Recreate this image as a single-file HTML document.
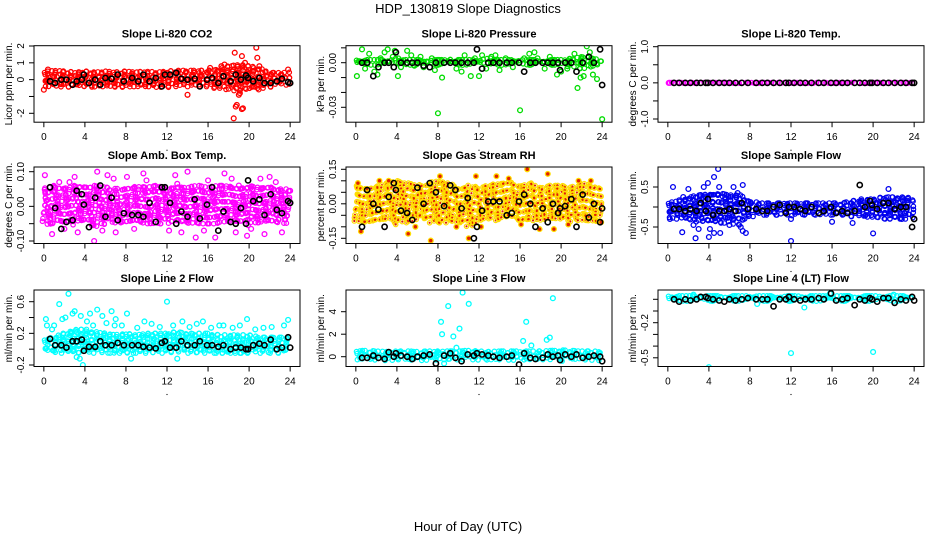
<!DOCTYPE html>
<html><head><meta charset="utf-8"><style>
html,body{margin:0;padding:0;background:#fff;}
svg text{font-family:"Liberation Sans",Arial,sans-serif;}
</style></head><body>
<svg id="chart" width="936" height="540" viewBox="0 0 936 540" xmlns="http://www.w3.org/2000/svg">
<rect x="0" y="0" width="936" height="540" fill="#fff"/>
<text x="468" y="13" text-anchor="middle" font-size="13">HDP_130819  Slope Diagnostics</text>
<text x="468" y="531" text-anchor="middle" font-size="13">Hour of Day (UTC)</text>
</svg>
<script>
const bandHours=[0,1,2,3,4,5,6,7,8,9,10,11,12,13,14,15,16,17,18,19,20,21,22,23,24];
const blackHours=[0.6,1.1,1.7,2.2,2.8,3.2,3.7,3.9,4.4,5,5.5,6,6.6,7.2,7.8,8.6,9.2,9.7,10.3,10.9,11.5,11.8,12.3,12.9,13.4,14,14.7,15.2,15.9,16.4,17,17.5,18.2,18.7,19.2,19.7,19.9,20.4,21,21.5,22.1,22.7,23.2,23.8,24];
const xTicks=[0,4,8,12,16,20,24];

// Panel 1: CO2
const co2Lo=[-0.4,-0.4,-0.45,-0.4,-0.4,-0.45,-0.4,-0.45,-0.45,-0.4,-0.4,-0.45,-0.5,-0.45,-0.5,-0.5,-0.5,-0.5,-0.6,-0.7,-0.6,-0.6,-0.45,-0.4,-0.4];
const co2Hi=[0.45,0.55,0.5,0.45,0.5,0.45,0.5,0.45,0.5,0.45,0.5,0.45,0.5,0.55,0.55,0.55,0.55,0.6,0.8,0.9,0.8,0.7,0.45,0.4,0.45];
const co2OutX=[18.6,20.7,20.8,19.3,19.6,19,19.1,18.8,18.7,19.4,19.3,18.5,14,0,17.3,17.6,21,23.8,0.4,16.2];
const co2OutY=[1.6,1.9,1.3,1.4,1.0,-0.9,-0.8,-1.5,-1.6,-1.7,-1.75,-2.3,-0.9,-0.6,0.8,0.9,0.8,0.6,0.6,0.7];
const co2Black=[-0.1,-0.2,0.0,0.0,-0.3,-0.1,0.0,0.3,-0.2,0.0,-0.3,0.1,0.05,0.3,-0.1,0.1,-0.1,0.3,-0.1,0.1,-0.4,0.3,0.3,0.4,0.05,0.0,0.05,-0.4,0.0,0.1,-0.2,0.2,-0.1,0.3,0.0,0.25,0.1,-0.1,0.1,-0.2,-0.2,-0.1,0.05,-0.15,-0.2];

// Panel 2: Pressure
const presLo=[-0.002,-0.002,-0.002,-0.002,-0.002,-0.002,-0.002,-0.002,-0.002,-0.002,-0.002,-0.002,-0.002,-0.002,-0.002,-0.002,-0.002,-0.002,-0.002,-0.002,-0.002,-0.003,-0.004,-0.003,-0.002];
const presHi=[0.002,0.002,0.002,0.002,0.003,0.002,0.002,0.002,0.002,0.002,0.002,0.002,0.002,0.003,0.002,0.002,0.002,0.002,0.002,0.002,0.002,0.003,0.004,0.003,0.002];
const presOutX=[0.1,0.3,0.6,0.9,1.3,1.8,2.1,2.4,2.8,3.1,3.6,3.8,4.1,4.4,5,5.4,5.7,6.3,6.6,7.4,7.7,8,8.4,9.2,9.8,10.3,10.6,11.2,11.6,12,12.3,12.7,13.2,13.6,14,14.6,15.3,16,16.4,16.9,17.4,17.7,18.4,18.9,19.6,20,20.6,21.3,21.6,21.9,22.2,22.5,22.8,23.1,23.5,24];
const presOutY=[-0.009,0.001,0.009,-0.004,0.006,-0.006,-0.008,0.003,0.007,0.009,0.004,0.008,-0.009,-0.003,0.008,0.005,-0.002,0.004,-0.003,0.003,-0.005,-0.034,-0.010,0.002,-0.004,-0.006,0.005,-0.009,0.003,-0.009,0.005,-0.004,0.004,0.005,-0.005,0.003,-0.003,-0.032,0.003,0.006,0.007,0.003,-0.004,0.004,-0.008,-0.006,-0.004,0.006,-0.017,-0.010,-0.009,0.011,0.007,-0.008,-0.011,-0.038];
const presBlack=[0,0,-0.009,-0.003,0,0,-0.003,0.007,0,0,0,0,-0.002,-0.003,0,0,0,0,0,0,0,0.009,-0.004,0,0,0,0,0,0,-0.006,0,0,0,0,0,0,-0.005,0,0,-0.006,0,0.004,0,0.009,-0.015];

// Panel 3: Li-820 Temp
const tempLo=[-0.01,-0.01,-0.01,-0.01,-0.01,-0.01,-0.01,-0.01,-0.01,-0.01,-0.01,-0.01,-0.01,-0.01,-0.01,-0.01,-0.01,-0.01,-0.01,-0.01,-0.01,-0.01,-0.01,-0.01,-0.01];
const tempHi=[0.01,0.01,0.01,0.01,0.01,0.01,0.01,0.01,0.01,0.01,0.01,0.01,0.01,0.01,0.01,0.01,0.01,0.01,0.01,0.01,0.01,0.01,0.01,0.01,0.01];
const tempOutX=[0.1,0.2];
const tempOutY=[0,0];
const tempBlack=[0,0,0,0,0,0,0,0,0,0,0,0,0,0,0,0,0,0,0,0,0,0,0,0,0,0,0,0,0,0,0,0,0,0,0,0,0,0,0,0,0,0,0,0,0];

// Panel 4: Amb box temp
const ambLo=[-0.05,-0.055,-0.05,-0.055,-0.05,-0.06,-0.05,-0.05,-0.055,-0.05,-0.055,-0.05,-0.05,-0.05,-0.055,-0.05,-0.05,-0.05,-0.05,-0.05,-0.055,-0.05,-0.05,-0.05,-0.05];
const ambHi=[0.05,0.06,0.055,0.06,0.06,0.06,0.055,0.05,0.055,0.06,0.055,0.06,0.05,0.06,0.055,0.06,0.055,0.06,0.06,0.055,0.06,0.055,0.06,0.05,0.05];
const ambOutX=[0.1,0.8,1.5,2.5,3.3,4.9,5.2,6.2,6.8,7,8.8,9.7,11.1,12.2,12.8,13.4,14,14.8,16,16.7,17.6,18.3,19,20.2,21.1,21.5,22.6,23.2,24,3,10,15.6,2,8.1,5.7,18.7,22,1.1,13,19.8];
const ambOutY=[0.09,-0.08,0.07,0.07,-0.075,-0.10,0.10,0.09,0.08,-0.075,-0.065,0.095,0.055,-0.07,0.09,-0.075,0.10,-0.09,0.075,-0.09,0.095,0.08,0.06,-0.065,0.08,-0.08,0.07,-0.075,0.045,0.085,0.075,-0.07,-0.065,0.085,-0.07,-0.075,0.085,0.055,0.065,-0.085];
const ambBlack=[0.055,-0.005,-0.065,-0.045,-0.04,0.045,0.035,0.005,-0.06,0.025,0.06,-0.03,0.025,-0.04,-0.02,-0.025,-0.025,-0.03,0.01,-0.045,0.055,0.055,0.01,-0.05,-0.015,-0.03,0.02,-0.035,0.005,0.055,-0.07,-0.015,-0.045,-0.05,-0.005,-0.05,0.075,0.015,0.02,-0.025,0.035,-0.01,-0.02,0.015,0.01];

// Panel 5: Gas stream RH
const rhLo=[-0.08,-0.09,-0.08,-0.07,-0.09,-0.08,-0.07,-0.08,-0.09,-0.08,-0.09,-0.1,-0.08,-0.07,-0.08,-0.07,-0.08,-0.07,-0.08,-0.07,-0.07,-0.08,-0.07,-0.08,-0.09];
const rhHi=[0.08,0.07,0.08,0.09,0.1,0.09,0.08,0.09,0.1,0.09,0.07,0.08,0.07,0.08,0.09,0.1,0.08,0.09,0.07,0.08,0.08,0.07,0.09,0.08,0.07];
const rhOutX=[0.2,0.5,2.3,3.2,5.1,5.8,7.3,8.2,9.8,11,11.7,13.7,14.9,16.7,18.7,19.3,17.9,16.1,21.7,22.9,23.9,20.7,12.2];
const rhOutY=[0.09,-0.12,0.1,0.1,-0.13,-0.1,-0.16,0.12,-0.1,-0.15,0.12,0.12,0.11,0.15,0.13,-0.11,-0.11,-0.09,0.1,0.1,-0.08,-0.09,-0.1];
const rhBlack=[-0.1,0.06,0.0,-0.025,-0.1,0.03,0.09,0.06,-0.03,-0.04,-0.07,0.07,0.0,0.09,0.05,-0.01,0.08,0.06,-0.02,0.025,-0.15,-0.1,-0.03,0.01,0.01,0.01,-0.05,-0.04,0.01,0.04,0.0,-0.1,-0.02,-0.08,0.0,-0.04,-0.02,-0.01,0.02,-0.1,0.04,-0.06,0.0,-0.08,-0.02];

// Panel 6: Sample flow
const sfLo=[-0.25,-0.3,-0.35,-0.4,-0.4,-0.4,-0.4,-0.45,-0.25,-0.2,-0.2,-0.2,-0.25,-0.2,-0.2,-0.2,-0.2,-0.2,-0.25,-0.25,-0.25,-0.3,-0.3,-0.3,-0.3];
const sfHi=[0.1,0.15,0.25,0.3,0.35,0.35,0.3,0.3,0.15,0.1,0.1,0.1,0.1,0.1,0.1,0.1,0.1,0.1,0.15,0.2,0.2,0.25,0.25,0.25,0.2];
const sfOutX=[0.5,0.2,1.4,2,2.5,2.7,3,3.5,3.9,4.1,4,4.5,4.9,4.5,5.1,5,5.7,6.4,6.8,7.3,7.1,7.3,7.6,6,5.9,3.2,12,12,16,18,20,21.5,22.8,1.5];
const sfOutY=[0.5,-0.3,-0.63,0.45,-0.45,-0.78,-0.55,0.5,0.6,-0.55,-0.75,0.75,0.95,-0.65,-0.65,0.5,0.3,0.5,0.35,0.55,-0.5,-0.6,-0.65,-0.45,0.25,0.3,-0.85,-0.3,-0.37,-0.4,-0.66,0.45,-0.3,0.25];
const sfBlack=[-0.05,-0.05,-0.1,-0.05,-0.1,0.1,-0.1,0.2,-0.2,-0.1,-0.1,-0.05,-0.1,0.1,-0.05,-0.05,-0.1,-0.1,0.0,0.05,-0.15,0.0,0.0,-0.05,-0.1,0.0,-0.15,-0.1,0.0,-0.15,-0.1,-0.15,-0.1,0.55,0.0,0.15,0.05,-0.05,0.1,0.1,-0.05,0.0,0.0,-0.5,-0.3];

// Panel 7: Line 2 flow
const l2Lo=[-0.02,-0.05,-0.05,-0.05,-0.05,-0.05,-0.05,-0.05,-0.05,-0.05,-0.05,-0.05,-0.05,-0.05,-0.05,-0.05,-0.05,-0.05,-0.05,-0.05,-0.05,-0.05,-0.05,-0.05,-0.02];
const l2Hi=[0.12,0.15,0.2,0.25,0.25,0.22,0.2,0.18,0.2,0.18,0.2,0.2,0.2,0.22,0.2,0.2,0.2,0.18,0.18,0.18,0.18,0.15,0.15,0.15,0.15];
const l2OutX=[0.2,0.3,1,1.5,2.1,2.4,2.6,3.5,3.8,3.2,4.5,5.2,6.6,8.1,12,1.5,9.8,13.5,15.5,17.5,19.8,4.2,3,7,8.5,13,23.8,23.4,2.8,5.7,1.8,3.6,4.8,6.1,7.6,9.1,10.5,11.3,12.6,14.2,14.9,16.3,17.1,18.4,19.1,20.6,21.4,22.2,0.8,6.9];
const l2OutY=[0.38,0.3,0.3,0.57,0.4,0.7,0.2,-0.12,-0.2,-0.1,0.45,0.5,0.48,0.45,0.6,0.15,0.35,0.35,0.35,0.3,0.38,0.35,0.48,0.38,-0.12,-0.12,0.37,0.3,0.45,0.42,0.38,0.42,0.3,0.33,0.3,0.27,0.32,0.28,0.3,0.28,0.32,0.27,0.3,0.27,0.3,0.25,0.27,0.28,0.25,0.3];
const l2Black=[0.13,0.05,0.05,0.02,0.1,0.1,0.12,-0.02,0.03,0.03,0.1,0.05,0.05,0.08,0.05,0.05,0.05,0.03,0.02,0.01,0.08,0.1,0.02,0.02,0.1,0.05,0.05,0.1,0.05,0.05,0.03,0.05,0.0,0.02,0.02,0.0,0.0,0.05,0.07,0.05,0.12,0.0,0.02,0.15,0.02];

// Panel 8: Line 3 flow
const l3Lo=[-0.35,-0.35,-0.35,-0.35,-0.35,-0.35,-0.35,-0.35,-0.4,-0.35,-0.35,-0.35,-0.35,-0.35,-0.35,-0.35,-0.4,-0.35,-0.35,-0.35,-0.4,-0.35,-0.35,-0.35,-0.35];
const l3Hi=[0.5,0.55,0.5,0.45,0.5,0.5,0.45,0.5,0.5,0.5,0.5,0.55,0.5,0.45,0.5,0.5,0.5,0.5,0.5,0.55,0.6,0.55,0.5,0.5,0.45];
const l3OutX=[8.3,8.4,9,9.5,10.4,10.1,11,16.6,16.3,17.1,18.6,18.9,19.2,8.6,9.8];
const l3OutY=[3.1,2.0,4.5,1.8,5.7,2.5,4.7,3.1,1.4,1.0,1.5,1.7,5.2,-0.6,0.8];
const l3Black=[-0.1,-0.1,0.1,-0.1,-0.2,0.4,0.0,0.3,0.1,0.0,-0.2,0.0,0.1,0.2,-0.6,0.1,0.3,-0.1,-0.4,0.2,0.1,0.3,0.2,0.1,0.0,-0.1,0.0,0.1,-0.7,0.3,-0.1,-0.2,-0.1,0.2,0.0,0.1,-0.3,0.2,0.0,0.2,-0.1,0.0,0.1,0.0,-0.4];

// Panel 9: Line 4 (LT) flow
const l4Lo=[-0.03,-0.03,-0.03,-0.03,-0.03,-0.03,-0.03,-0.03,-0.03,-0.03,-0.03,-0.03,-0.03,-0.03,-0.03,-0.03,-0.03,-0.03,-0.03,-0.03,-0.03,-0.03,-0.03,-0.03,-0.03];
const l4Hi=[0.03,0.03,0.03,0.03,0.03,0.03,0.03,0.03,0.03,0.03,0.03,0.03,0.03,0.03,0.03,0.03,0.03,0.03,0.03,0.03,0.03,0.03,0.03,0.03,0.03];
const l4OutX=[4,12,20,13.3,8.7,15.8,2.5,22];
const l4OutY=[-0.58,-0.46,-0.45,-0.07,-0.04,0.05,0.04,0.04];
const l4Black=[0.0,-0.02,0.0,-0.01,0.0,0.02,0.02,0.01,0.0,-0.01,-0.02,0.0,-0.01,0.0,0.01,0.0,0.0,0.0,-0.06,0.0,0.0,0.02,0.0,-0.01,0.0,0.0,0.01,0.0,0.05,-0.01,0.0,0.01,-0.05,0.0,-0.01,0.01,0.0,-0.02,0.01,0.01,-0.03,0.0,-0.01,0.02,-0.01];

const NS='http://www.w3.org/2000/svg';
const svg=document.getElementById('chart');
function mk(tag,attrs,parent){const e=document.createElementNS(NS,tag);for(const k in attrs)e.setAttribute(k,attrs[k]);(parent||svg).appendChild(e);return e;}

const panels=[
 {key:'co2',title:'Slope Li-820 CO2',ylab:'Licor ppm per min.',left:34,top:45.7,col:'#ff0000',lo:co2Lo,hi:co2Hi,ox:co2OutX,oy:co2OutY,bk:co2Black,yr:[2,46,-2,113.3],ticks:[-2,-1,0,1,2],labels:[[-2,'-2'],[0,'0'],[1,'1'],[2,'2']]},
 {key:'pressure',title:'Slope Li-820 Pressure',ylab:'kPa per min.',left:346,top:45.7,col:'#00dd00',lo:presLo,hi:presHi,ox:presOutX,oy:presOutY,bk:presBlack,yr:[0,62.7,-0.03,107.3],ticks:[0.01,0,-0.01,-0.02,-0.03],labels:[[0,'0.00'],[-0.03,'-0.03']]},
 {key:'li820-temp',title:'Slope Li-820 Temp.',ylab:'degrees C per min.',left:658,top:45.7,col:'#ff00ff',lo:tempLo,hi:tempHi,ox:tempOutX,oy:tempOutY,bk:tempBlack,yr:[1,46.7,-1,119],ticks:[1,0.5,0,-0.5,-1],labels:[[1,'1.0'],[0,'0.0'],[-1,'-1.0']]},
 {key:'amb-box-temp',title:'Slope Amb. Box Temp.',ylab:'degrees C per min.',left:34,top:167,col:'#ff00ff',lo:ambLo,hi:ambHi,ox:ambOutX,oy:ambOutY,bk:ambBlack,yr:[0.1,171.7,-0.1,241],ticks:[0.1,0.05,0,-0.05,-0.1],labels:[[0.1,'0.10'],[0,'0.00'],[-0.1,'-0.10']]},
 {key:'gas-stream-rh',title:'Slope Gas Stream RH',ylab:'percent per min.',left:346,top:167,col:'#ffdd00',dot:'#e02000',lo:rhLo,hi:rhHi,ox:rhOutX,oy:rhOutY,bk:rhBlack,yr:[0.15,169.3,-0.15,238.3],ticks:[0.15,0.1,0.05,0,-0.05,-0.1,-0.15],labels:[[0.15,'0.15'],[0,'0.00'],[-0.15,'-0.15']]},
 {key:'sample-flow',title:'Slope Sample Flow',ylab:'ml/min per min.',left:658,top:167,col:'#0000ee',lo:sfLo,hi:sfHi,ox:sfOutX,oy:sfOutY,bk:sfBlack,yr:[0.5,187,-0.5,227],ticks:[0.5,0,-0.5],labels:[[0.5,'0.5'],[-0.5,'-0.5']]},
 {key:'line2-flow',title:'Slope Line 2 Flow',ylab:'ml/min per min.',left:34,top:290,col:'#00ffff',lo:l2Lo,hi:l2Hi,ox:l2OutX,oy:l2OutY,bk:l2Black,yr:[0.6,301.7,-0.2,365],ticks:[0.6,0.4,0.2,0,-0.2],labels:[[0.6,'0.6'],[0.2,'0.2'],[-0.2,'-0.2']]},
 {key:'line3-flow',title:'Slope Line 3 Flow',ylab:'ml/min per min.',left:346,top:290,col:'#00ffff',lo:l3Lo,hi:l3Hi,ox:l3OutX,oy:l3OutY,bk:l3Black,yr:[4,311.7,0,356.7],ticks:[0,2,4],labels:[[0,'0'],[2,'2'],[4,'4']]},
 {key:'line4-flow',title:'Slope Line 4 (LT) Flow',ylab:'ml/min per min.',left:658,top:290,col:'#00ffff',lo:l4Lo,hi:l4Hi,ox:l4OutX,oy:l4OutY,bk:l4Black,yr:[0,299.3,-0.2,322.7],ticks:[0,-0.1,-0.2,-0.3,-0.4,-0.5],labels:[[-0.2,'-0.2'],[-0.5,'-0.5']]}
];

const W=266,H=76.5;
panels.forEach((p,pi)=>{
  const g=mk('g',{});
  
  
  const xs=h=>p.left+W*(h+0.96)/25.92;
  const ys=v=>p.yr[1]+(v-p.yr[0])*(p.yr[3]-p.yr[1])/(p.yr[2]-p.yr[0]);
  const cid='clip'+pi;
  const cp=mk('clipPath',{id:cid},g);
  mk('rect',{x:p.left,y:p.top,width:W,height:H},cp);
  const t=mk('text',{x:p.left+W/2,y:p.top-8,'text-anchor':'middle','font-size':'11','font-weight':'bold'},g);
  t.textContent=p.title;
  
  
  const pts=mk('g',{'clip-path':'url(#'+cid+')'},g);
  
  
  // band texture: open circles between lo/hi envelopes with fixed texture offsets
  let n=0;
  for(let i=0;i<bandHours.length-1;i++){
    for(let h=bandHours[i];h<bandHours[i+1]-1e-6;h+=0.26){
      const f=(h-bandHours[i])/(bandHours[i+1]-bandHours[i]);
      const lo=p.lo[i]+(p.lo[i+1]-p.lo[i])*f, hi=p.hi[i]+(p.hi[i+1]-p.hi[i])*f;
      const y1=ys(hi), y2=ys(lo);
      for(let y=y1;y<=y2+0.01;y+=3.6){
        n++;
        const jx=Math.sin(n*12.9898)*1.6, jy=Math.sin(n*78.233)*1.8;
        const cx=(xs(h)+jx).toFixed(1), cy=Math.min(y2,Math.max(y1,y+jy)).toFixed(1);
        const c=mk('circle',{cx:cx,cy:cy,r:2.2,fill:'none',stroke:p.col,'stroke-width':1.2},pts);
        
        
        if(p.dot){mk('circle',{cx:cx,cy:cy,r:1.1,fill:p.dot},pts);}
      }
    }
  }
  p.ox.forEach((h,i)=>{
    const c=mk('circle',{cx:xs(h),cy:ys(p.oy[i]),r:2.4,fill:p.dot?p.dot:'none',stroke:p.col,'stroke-width':1.3},pts);
    
    
  });
  blackHours.forEach((h,i)=>{
    const c=mk('circle',{cx:xs(h),cy:ys(p.bk[i]),r:2.6,fill:'none',stroke:'#000','stroke-width':1.6},pts);
    
    
  });
  const box=mk('rect',{x:p.left,y:p.top,width:W,height:H,fill:'none',stroke:'#000','stroke-width':1},g);
  
  
  const bot=p.top+H;
  xTicks.forEach(v=>{
    mk('line',{x1:xs(v),x2:xs(v),y1:bot,y2:bot+5,stroke:'#000'},g);
    const tl=mk('text',{x:xs(v),y:bot+18,'text-anchor':'middle','font-size':'10'},g);
    tl.textContent=v;
    
    
  });
  mk('circle',{cx:p.left+W/2,cy:bot+28,r:0.6,fill:'#000'},g);
  p.ticks.forEach(v=>{mk('line',{x1:p.left-5,x2:p.left,y1:ys(v),y2:ys(v),stroke:'#000'},g);});
  p.labels.forEach(l=>{
    const yy=ys(l[0]);
    const tl=mk('text',{x:p.left-10,y:yy,'text-anchor':'middle','font-size':'10',transform:'rotate(-90 '+(p.left-10)+' '+yy+')'},g);
    tl.textContent=l[1];
    
    
  });
  const cy=p.top+H/2;
  const yl=mk('text',{x:p.left-22,y:cy,'text-anchor':'middle','font-size':'10',transform:'rotate(-90 '+(p.left-22)+' '+cy+')'},g);
  yl.textContent=p.ylab;
  
  
});
</script>
</body></html>
